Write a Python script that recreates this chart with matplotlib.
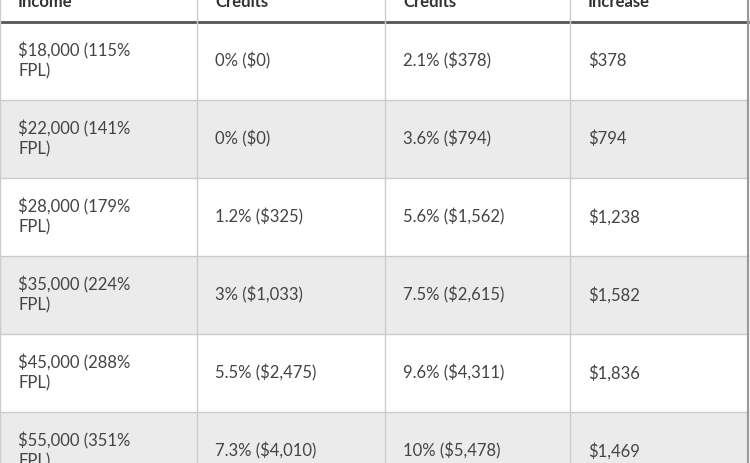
import matplotlib
matplotlib.use("Agg")
import matplotlib.pyplot as plt
from matplotlib.patches import Rectangle

headers = ["Income", "Credits", "Credits", "Increase"]
income = ["$18,000 (115%\nFPL)", "$22,000 (141%\nFPL)", "$28,000 (179%\nFPL)",
          "$35,000 (224%\nFPL)", "$45,000 (288%\nFPL)", "$55,000 (351%\nFPL)"]
credits_a = ["0% ($0)", "0% ($0)", "1.2% ($325)", "3% ($1,033)", "5.5% ($2,475)", "7.3% ($4,010)"]
credits_b = ["2.1% ($378)", "3.6% ($794)", "5.6% ($1,562)", "7.5% ($2,615)", "9.6% ($4,311)", "10% ($5,478)"]
increase = ["$378", "$794", "$1,238", "$1,582", "$1,836", "$1,469"]

plt.rcParams['font.family'] = ['Lato', 'DejaVu Sans']
fig = plt.figure(figsize=(7.5, 4.63), dpi=100)
ax = fig.add_axes([0, 0, 1, 1])
ax.set_xlim(0, 750); ax.set_ylim(463, 0); ax.axis('off')

col_x = [0, 197, 385, 570, 748]
row_top = 22
row_h = 78
txt = "#444444"
cols = [income, credits_a, credits_b, increase]

for i in range(len(income)):
    y0 = row_top + i * row_h
    ax.add_patch(Rectangle((0, y0), 748, row_h, facecolor="#ebebeb" if i % 2 else "white",
                           edgecolor="none"))
    ax.plot([0, 748], [y0, y0], color="#cccccc", lw=1)
    for c, vals in enumerate(cols):
        ax.text(col_x[c] + 18, y0 + row_h / 2, vals[i], color=txt, fontsize=12,
                va="center", ha="left", linespacing=1.3)

for c, h in enumerate(headers):
    ax.text(col_x[c] + 18, 2, h, color="#333333", fontsize=12, fontweight="bold",
            va="center", ha="left")
ax.plot([0, 748], [row_top, row_top], color="#555555", lw=2)
for x in col_x:
    ax.plot([x, x], [0, 463], color="#cccccc", lw=1)
ax.plot([748, 748], [0, 463], color="#999999", lw=1.5)
fig.savefig("out.png", dpi=100)
